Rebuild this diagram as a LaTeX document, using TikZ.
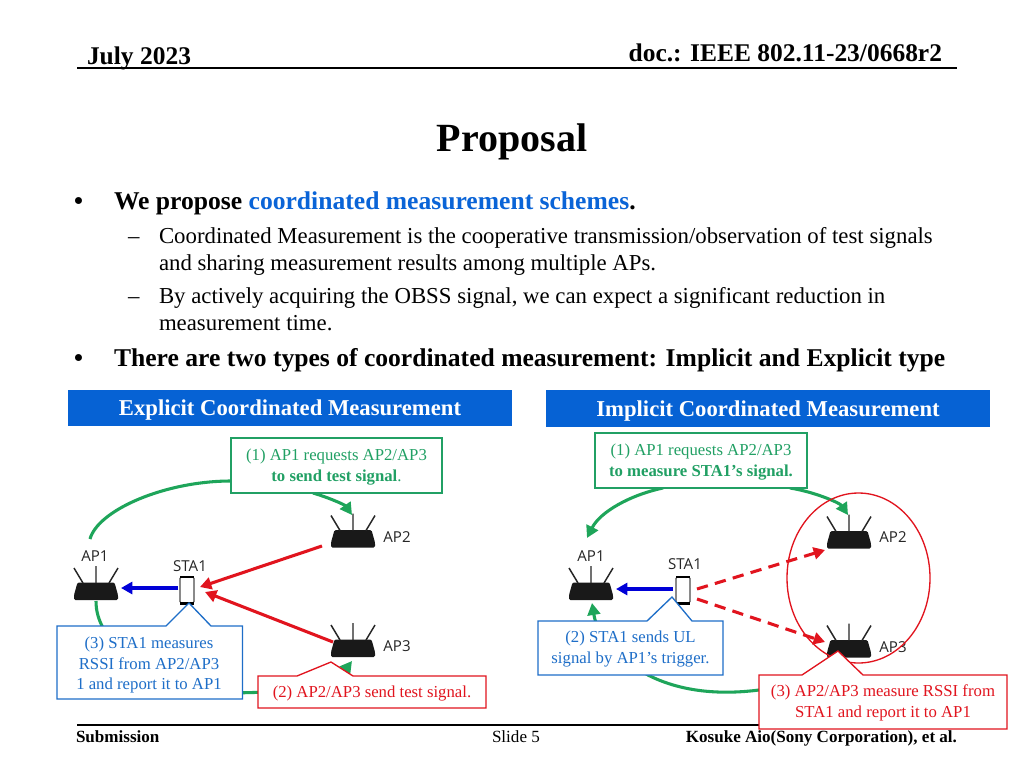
\documentclass[tikz,border=0pt]{standalone}
\usepackage{fontspec}
\setmainfont{Liberation Serif}
\newfontfamily\lblfont{Open Sans}
\usetikzlibrary{arrows.meta}
\definecolor{hdrblue}{RGB}{6,98,212}
\definecolor{txtblue}{RGB}{10,100,215}
\definecolor{grn}{RGB}{30,165,90}
\definecolor{grnbox}{RGB}{33,160,100}
\definecolor{bluebox}{RGB}{30,110,200}
\definecolor{redbox}{RGB}{225,20,30}
\definecolor{redarrow}{RGB}{225,20,30}
\definecolor{bluearrow}{RGB}{0,0,215}
\tikzset{
  txt/.style={anchor=base west,inner sep=0pt,outer sep=0pt,text=black},
  ttl/.style={font=\bfseries\fontsize{30}{36}\selectfont,inner sep=0pt,text=black},
  hd/.style={txt,font=\bfseries\fontsize{19.2}{22}\selectfont},
  lvlb/.style={txt,font=\fontsize{17.1}{20}\selectfont},
  foot/.style={txt,font=\bfseries\fontsize{12.8}{14}\selectfont},
  banner/.style={text=white,inner sep=0pt,font=\bfseries\fontsize{17}{20}\selectfont,align=center},
  call/.style={align=center,inner sep=0pt,font=\fontsize{12.55}{15.2}\selectfont},
  callg/.style={draw=grnbox,fill=white,line width=1pt},
  callb/.style={draw=bluebox,fill=white,line width=1pt},
  callr/.style={draw=redbox,fill=white,line width=1pt},
  link/.style={draw=grn,line width=2.3pt},
  linktip/.style={link,-{Triangle[length=9pt,width=9.5pt]}},
  sig/.style={draw=redarrow,line width=2.3pt,-{Triangle[length=8.5pt,width=9pt]}},
  sigd/.style={sig,dash pattern=on 8.5pt off 5.5pt},
  up/.style={draw=bluearrow,line width=2.3pt,-{Triangle[length=8.5pt,width=9pt]}},
  lbl/.style={font=\lblfont\fontsize{11.3}{13}\selectfont,inner sep=0pt,text=black!85},
  routerpic/.pic={
    \fill[black!90,rounded corners=1pt] (-18.5,-8.5) -- (18.5,-8.5) -- (22,4) -- (22,9) -- (-22,9) -- (-22,4) -- cycle;
    \draw[black!85,line width=1.1pt] (-13,-8) -- (-22,-23) (0,-8) -- (0,-25) (13,-8) -- (22,-23);
  },
  phonepic/.pic={
    \draw[black!70,line width=.8pt,fill=white,rounded corners=1pt] (-7,-13) rectangle (7,13);
    \fill[black] (-7,-14.5) rectangle (7,-12);
    \fill[black] (-7,12) rectangle (7,14.5);
  }
}
\begin{document}
\begin{tikzpicture}[x=.75pt,y=-.75pt]
\useasboundingbox (0,0) rectangle (1024,768);
\fill[white] (0,0) rectangle (1024,768);
% header
\node[txt,font=\bfseries\fontsize{19.1}{22}\selectfont] (date) at (87,64) {July 2023};
\node[txt,font=\bfseries\fontsize{19.1}{22}\selectfont,anchor=base east] (doc) at (942,61.5) {doc.: IEEE 802.11-23/0668r2};
\coordinate (hl) at (77,68); \coordinate (hr) at (957,68);
\draw[line width=.9pt] (hl) -- (hr);
\node[ttl] (title) at (512,142) {Proposal};
% bullets
\node[hd] (b1) at (74,209) {•};
\node[hd] (t1) at (114,209) {We propose {\color{txtblue}coordinated measurement schemes}.};
\node[lvlb] (d1) at (128,243) {–};
\node[lvlb] (t2) at (159,243) {Coordinated Measurement is the cooperative transmission/observation of test signals};
\node[lvlb] (t3) at (159,270) {and sharing measurement results among multiple APs.};
\node[lvlb] (d2) at (128,303) {–};
\node[lvlb] (t4) at (159,303) {By actively acquiring the OBSS signal, we can expect a significant reduction in};
\node[lvlb] (t5) at (159,330) {measurement time.};
\node[hd] (b2) at (74,366) {•};
\node[hd] (t6) at (114,366) {There are two types of coordinated measurement: Implicit and Explicit type};
% banners
\fill[hdrblue] (68,390) rectangle (512,426);
\fill[hdrblue] (546,390) rectangle (990,427);
\node[banner] (bE) at (290,410.5) {Explicit Coordinated Measurement};
\node[banner] (bI) at (768,411) {Implicit Coordinated Measurement};
% footer
\coordinate (fl) at (77,725); \coordinate (fr) at (957,725);
\draw[line width=.9pt] (fl) -- (fr);
\node[foot] (sub) at (76,742) {Submission};
\node[txt,font=\fontsize{12.8}{14}\selectfont] (sl) at (492,742) {Slide 5};
\node[foot,anchor=base east] (auth) at (957,742) {Kosuke Aio(Sony Corporation), et al.};
% routers and phones: explicit
\pic at (96,591) {routerpic}; \pic at (353,538.5) {routerpic}; \pic at (353,648) {routerpic};
\pic at (187,590) {phonepic};
\coordinate (eAP1t) at (90,539); \coordinate (eAP1b) at (96,601);
\coordinate (eAP2t) at (352,515); \coordinate (eAP2l) at (322,546);
\coordinate (eAP3t) at (352,661); \coordinate (eAP3l) at (333,642);
\coordinate (eSTAl) at (178,588); \coordinate (eAP1r) at (121,588);
\coordinate (eSTAa) at (200,587); \coordinate (eSTAb) at (205,592);
\node[lbl] (eL1) at (95,556) {AP1}; \node[lbl] (eL2) at (190,566) {STA1};
\node[lbl] (eL3) at (397,537) {AP2}; \node[lbl] (eL4) at (397,646) {AP3};
% routers and phones: implicit
\pic at (591,591) {routerpic}; \pic at (849,539.5) {routerpic}; \pic at (849,648.5) {routerpic};
\pic at (683,590) {phonepic};
\coordinate (iAP1t) at (587,538); \coordinate (iAP1b) at (592,603);
\coordinate (iAP2t) at (848,515); \coordinate (iAP3t) at (848,660);
\coordinate (iAP1r) at (616,589); \coordinate (iSTAl) at (673,589);
\coordinate (iSTAa) at (697,589); \coordinate (iSTAb) at (697,599);
\coordinate (iAP2l) at (825,550); \coordinate (iAP3l) at (825,642);
\node[lbl] (iL1) at (591,556) {AP1}; \node[lbl] (iL2) at (685,564) {STA1};
\node[lbl] (iL3) at (893,537) {AP2}; \node[lbl] (iL4) at (893,647) {AP3};
% connectors explicit
\draw[link] (eAP1t) .. controls (98,510) and (165,481) .. (231,481);
\draw[linktip] (313,493) .. controls (330,498) and (345,505) .. (eAP2t);
\draw[link] (eAP1b) .. controls (96,612) and (99,620) .. (103,628);
\draw[linktip] (230,693) .. controls (290,692) and (330,690) .. (eAP3t);
\draw[sig] (eAP2l) -- (eSTAa);
\draw[sig] (eAP3l) -- (eSTAb);
\draw[up] (eSTAl) -- (eAP1r);
% connectors implicit
\draw[linktip] (790,488) .. controls (815,492) and (840,503) .. (iAP2t);
\draw[linktip] (663,488) .. controls (630,495) and (600,512) .. (iAP1t);
\draw[linktip] (646,674) .. controls (620,660) and (598,640) .. (iAP1b);
\draw[link] (646,674) .. controls (680,692) and (720,695) .. (759,690);
\draw[sigd] (iSTAa) -- (iAP2l);
\draw[sigd] (iSTAb) -- (iAP3l);
\draw[up] (iSTAl) -- (iAP1r);
\coordinate (elc) at (858.5,578);
\draw[draw=redbox,line width=1pt] (elc) ellipse [x radius=71.5,y radius=85];
% callouts
\draw[callg] (231,438) rectangle (442,493);
\node[call,text=grnbox] (cE1) at (336.5,467) {(1) AP1 requests AP2/AP3\\{\bfseries to send test signal}.};
\draw[callb] (57,626) -- (166,626) -- (189,603) -- (211,626) -- (242.5,626) -- (242.5,699) -- (57,699) -- cycle;
\node[call,text=bluebox] (cE3) at (149,665) {(3) STA1 measures\\RSSI from AP2/AP3\\1 and report it to AP1};
\draw[callr] (258,676) -- (297,676) -- (331,662) -- (353,676) -- (486,676) -- (486,708) -- (258,708) -- cycle;
\node[call,text=redbox] (cE2) at (372,693) {(2) AP2/AP3 send test signal.};
\draw[callg] (595,433) rectangle (807,488);
\node[call,text=grnbox] (cI1) at (701,462) {(1) AP1 requests AP2/AP3\\{\bfseries to measure STA1’s signal.}};
\draw[callb] (538,621) -- (647,621) -- (672,597) -- (692,621) -- (723,621) -- (723,675) -- (538,675) -- cycle;
\node[call,text=bluebox] (cI2) at (630.5,649) {(2) STA1 sends UL\\signal by AP1’s trigger.};
\draw[callr] (759,675) -- (802,675) -- (838,651) -- (863,675) -- (1007,675) -- (1007,729) -- (759,729) -- cycle;
\node[call,text=redbox] (cI3) at (883,703) {(3) AP2/AP3 measure RSSI from\\STA1 and report it to AP1};
\end{tikzpicture}
\end{document}
